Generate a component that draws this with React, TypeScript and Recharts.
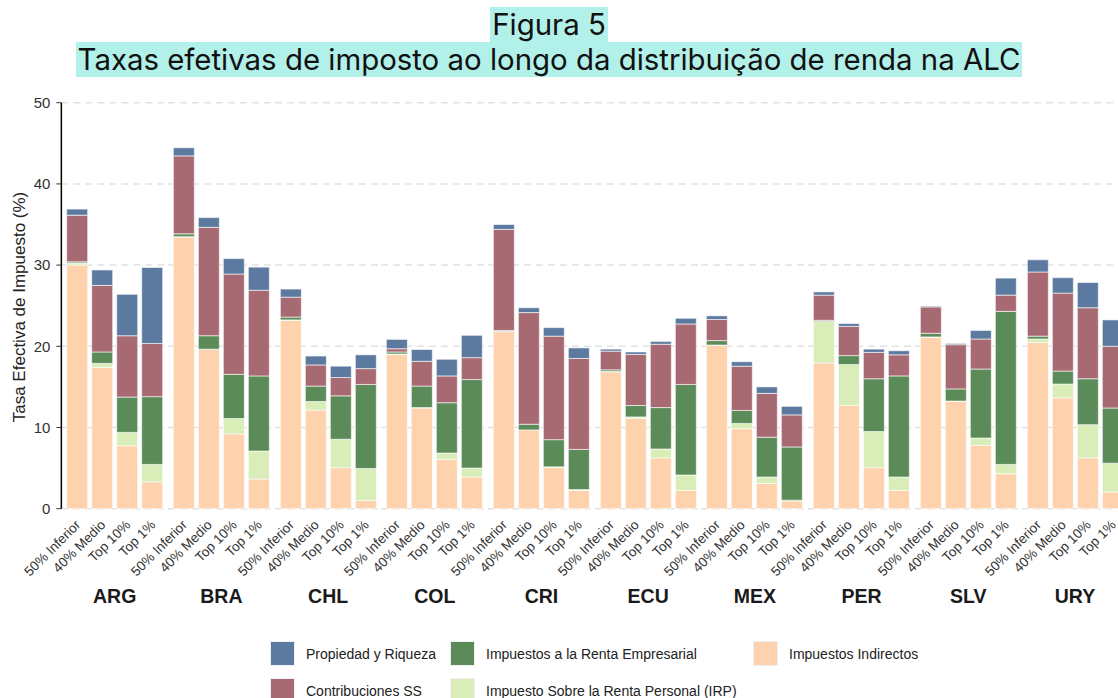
import { BarChart, Bar, XAxis, YAxis, CartesianGrid } from 'recharts';

// países y grupos de la distribución
const paises = ['ARG', 'BRA', 'CHL', 'COL', 'CRI', 'ECU', 'MEX', 'PER', 'SLV', 'URY'];
const grupos = ['50% Inferior', '40% Medio', 'Top 10%', 'Top 1%'];
const yTicks = [0, 10, 20, 30, 40, 50];

// valores por país, en el orden de "grupos"
const indirectos = [
  30.0, 17.4, 7.75, 3.3, // ARG
  33.45, 19.6, 9.2, 3.65, // BRA
  23.2, 12.15, 5.05, 1.0, // CHL
  19.0, 12.4, 6.05, 3.9, // COL
  21.8, 9.7, 5.1, 2.25, // CRI
  16.85, 11.15, 6.25, 2.25, // ECU
  20.1, 9.85, 3.1, 0.95, // MEX
  17.95, 12.7, 5.05, 2.25, // PER
  21.1, 13.2, 7.8, 4.3, // SLV
  20.45, 13.65, 6.25, 2.05, // URY
];
const irp = [
  0.25, 0.5, 1.65, 2.15,
  0.05, 0.05, 1.9, 3.45,
  0.05, 1.05, 3.5, 3.95,
  0.05, 0.05, 0.8, 1.1,
  0.05, 0.0, 0.05, 0.1,
  0.05, 0.15, 1.1, 1.9,
  0.05, 0.65, 0.8, 0.1,
  5.1, 5.05, 4.45, 1.65,
  0.05, 0.05, 0.9, 1.15,
  0.45, 1.7, 4.1, 3.55,
];
const empresarial = [
  0.15, 1.4, 4.35, 8.35,
  0.35, 1.65, 5.45, 9.25,
  0.35, 1.9, 5.35, 10.35,
  0.25, 2.65, 6.2, 10.9,
  0.1, 0.7, 3.35, 4.95,
  0.2, 1.4, 5.1, 11.15,
  0.55, 1.6, 4.9, 6.55,
  0.15, 1.1, 6.5, 12.45,
  0.45, 1.5, 8.5, 18.85,
  0.35, 1.6, 5.65, 6.8,
];
const contribuciones = [
  5.75, 8.2, 7.55, 6.55,
  9.6, 13.35, 12.35, 10.55,
  2.45, 2.6, 2.25, 1.95,
  0.4, 3.05, 3.3, 2.7,
  12.45, 13.75, 12.75, 11.2,
  2.3, 6.3, 7.8, 7.45,
  2.6, 5.45, 5.4, 3.95,
  3.1, 3.6, 3.25, 2.6,
  3.25, 5.45, 3.7, 2.0,
  7.9, 9.6, 8.75, 7.6,
];
const propiedad = [
  0.75, 1.9, 5.1, 9.35,
  1.0, 1.2, 1.9, 2.85,
  1.0, 1.1, 1.4, 1.7,
  1.15, 1.45, 2.05, 2.75,
  0.6, 0.6, 1.05, 1.3,
  0.25, 0.3, 0.35, 0.7,
  0.45, 0.55, 0.8, 1.05,
  0.4, 0.35, 0.4, 0.5,
  0.1, 0.15, 1.05, 2.1,
  1.5, 1.9, 3.1, 3.25,
];

const series = [
  { key: 'ind', name: 'Impuestos Indirectos', color: '#fdd2ad' },
  { key: 'irp', name: 'Impuesto Sobre la Renta Personal (IRP)', color: '#d9edb9' },
  { key: 'emp', name: 'Impuestos a la Renta Empresarial', color: '#5a8b58' },
  { key: 'ss', name: 'Contribuciones SS', color: '#a86a72' },
  { key: 'prop', name: 'Propiedad y Riqueza', color: '#5c7a9f' },
];

const legendRows = [
  [
    { name: 'Propiedad y Riqueza', color: '#5c7a9f', x: 270 },
    { name: 'Impuestos a la Renta Empresarial', color: '#5a8b58', x: 450 },
    { name: 'Impuestos Indirectos', color: '#fdd2ad', x: 753 },
  ],
  [
    { name: 'Contribuciones SS', color: '#a86a72', x: 270 },
    { name: 'Impuesto Sobre la Renta Personal (IRP)', color: '#d9edb9', x: 450 },
  ],
];

const FONT = '"Liberation Sans", Arial, sans-serif';
const PLOT_LEFT = 61.35;
const PANEL_W = 106.7;
const TOP = 102.7;
const PLOT_H = 406;
const XAXIS_H = 90;

const datosPais = (pi: number) =>
  grupos.map((g, gi) => {
    const i = pi * 4 + gi;
    return {
      grupo: g,
      ind: indirectos[i],
      irp: irp[i],
      emp: empresarial[i],
      ss: contribuciones[i],
      prop: propiedad[i],
    };
  });

const TickGrupo = (props: any) => {
  const { x, y, payload } = props;
  const tx = x + 4;
  const ty = y + 9;
  return (
    <text
      x={tx}
      y={ty}
      transform={`rotate(-45 ${tx} ${ty})`}
      textAnchor="end"
      fontSize={13.5}
      fontFamily={FONT}
      fill="#333"
    >
      {payload.value}
    </text>
  );
};

function Panel({ pi }: { pi: number }) {
  const first = pi === 0;
  const width = first ? PLOT_LEFT + PANEL_W : PANEL_W;
  return (
    <BarChart
      width={width}
      height={TOP + PLOT_H + XAXIS_H}
      data={datosPais(pi)}
      margin={{ top: TOP, right: 0, left: 0, bottom: 0 }}
      barSize={21}
    >
      <CartesianGrid
        vertical={false}
        stroke="#e2e2e2"
        strokeWidth={1.5}
        strokeDasharray="7 5"
      />
      <XAxis
        dataKey="grupo"
        interval={0}
        axisLine={false}
        tickLine={false}
        height={XAXIS_H}
        padding={{ left: 3.35, right: 3.35 }}
        tick={<TickGrupo />}
      />
      {first ? (
        <YAxis
          domain={[0, 50]}
          ticks={yTicks}
          width={PLOT_LEFT}
          axisLine={{ stroke: '#000', strokeWidth: 1.5 }}
          tickLine={{ stroke: '#333' }}
          tickSize={5}
          tickMargin={6}
          tick={{ fontSize: 15, fill: '#333', fontFamily: FONT }}
        />
      ) : (
        <YAxis hide domain={[0, 50]} ticks={yTicks} />
      )}
      {series.map((s) => (
        <Bar
          key={s.key}
          dataKey={s.key}
          name={s.name}
          stackId="a"
          fill={s.color}
          stroke="#ffffff"
          strokeOpacity={0.6}
          strokeWidth={1}
          isAnimationActive={false}
        />
      ))}
    </BarChart>
  );
}

export default function App() {
  return (
    <div
      style={{
        position: 'absolute',
        left: 0,
        top: 0,
        width: 1118,
        height: 698,
        overflow: 'hidden',
        background: '#fff',
        fontFamily: FONT,
      }}
    >
      <style>{`.recharts-surface { overflow: visible; } .recharts-wrapper { overflow: visible; }`}</style>
      <div style={{ position: 'absolute', left: 0, top: 0, display: 'flex' }}>
        {paises.map((p, pi) => (
          <Panel key={p} pi={pi} />
        ))}
      </div>

      <div
        style={{
          position: 'absolute',
          left: 0,
          top: 8,
          width: 1098,
          textAlign: 'center',
          fontFamily: 'Inter, sans-serif',
          fontSize: 29.4,
          color: '#111',
          lineHeight: '34.7px',
        }}
      >
        <span style={{ background: '#b2f0ea', padding: '0 2px' }}>Figura 5</span>
        <br />
        <span style={{ background: '#b2f0ea', padding: '0 2px' }}>
          Taxas efetivas de imposto ao longo da distribuição de renda na ALC
        </span>
      </div>

      <div
        style={{
          position: 'absolute',
          left: 20,
          top: 307,
          transform: 'translate(-50%, -50%) rotate(-90deg)',
          whiteSpace: 'nowrap',
          fontSize: 17,
          color: '#222',
        }}
      >
        Tasa Efectiva de Impuesto (%)
      </div>

      {paises.map((p, pi) => (
        <div
          key={p}
          style={{
            position: 'absolute',
            left: PLOT_LEFT + PANEL_W * pi,
            width: PANEL_W,
            top: 585,
            textAlign: 'center',
            fontWeight: 'bold',
            fontSize: 19.5,
            color: '#1a1a1a',
          }}
        >
          {p}
        </div>
      ))}

      {legendRows.map((row, ri) =>
        row.map((it) => (
          <div
            key={it.name}
            style={{
              position: 'absolute',
              left: it.x,
              top: 641 + ri * 37,
              display: 'flex',
              alignItems: 'center',
              fontSize: 14,
              color: '#222',
            }}
          >
            <div
              style={{
                width: 23,
                height: 23,
                background: it.color,
                border: '1px solid #eef0f2',
                marginRight: 11,
              }}
            />
            <span>{it.name}</span>
          </div>
        ))
      )}
    </div>
  );
}
